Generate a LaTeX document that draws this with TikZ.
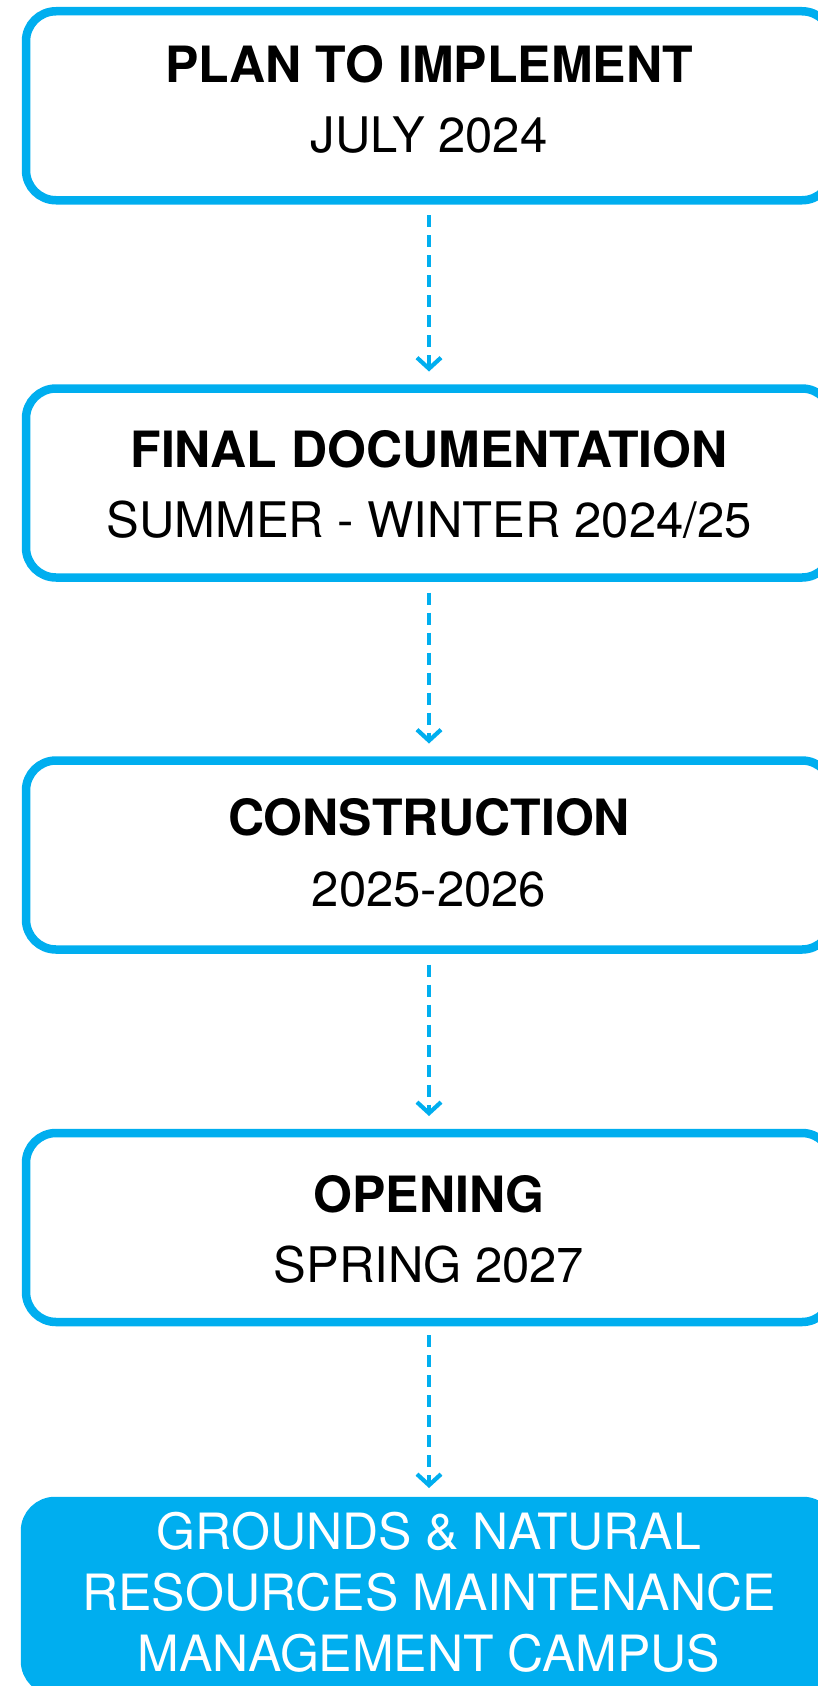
\documentclass[tikz,border=0pt]{standalone}
\usepackage{fontspec}
\setmainfont{TeX Gyre Heros}
\usetikzlibrary{arrows.meta}
\definecolor{brandcyan}{RGB}{0,174,239}
\begin{document}
\begin{tikzpicture}[x=1pt,y=-1pt,
  box/.style={draw=brandcyan, line width=8.5pt, rounded corners=30pt,
    minimum width=806pt, minimum height=189pt, inner sep=0pt, outer sep=0pt},
  endbox/.style={box, fill=brandcyan, minimum width=808pt, minimum height=190pt},
  titletext/.style={font=\fontsize{50}{60}\selectfont\bfseries, text=black, inner sep=0pt, anchor=base},
  subtext/.style={font=\fontsize{49}{60}\selectfont, text=black, inner sep=0pt, anchor=base},
  endtext/.style={font=\fontsize{50}{61}\selectfont, text=white, align=center, inner sep=0pt},
  flow/.style={draw=brandcyan, line width=4.2pt, dash pattern=on 12pt off 8pt,
    -{Straight Barb[length=11pt,width=24pt]}, shorten <=15pt, shorten >=17pt}]
\useasboundingbox (0,0) rectangle (817,1686);

\node[box] (b1) at (429,105.75) {};
\node[box] (b2) at (429,483) {};
\node[box] (b3) at (429,855) {};
\node[box] (b4) at (429,1227.5) {};
\node[endbox] (b5) at (429,1596) {};

\node[titletext] (t1) at (429,82) {PLAN TO IMPLEMENT};
\node[subtext] (s1) at (429,152) {JULY 2024};
\node[titletext] (t2) at (429,467) {FINAL DOCUMENTATION};
\node[subtext] (s2) at (429,537) {SUMMER - WINTER 2024/25};
\node[titletext] (t3) at (429,835.5) {CONSTRUCTION};
\node[subtext] (s3) at (429,906.5) {2025-2026};
\node[titletext] (t4) at (429,1212) {OPENING};
\node[subtext] (s4) at (429,1282) {SPRING 2027};
\node[endtext] (t5) at (429,1592) {GROUNDS \& NATURAL\\RESOURCES MAINTENANCE\\MANAGEMENT CAMPUS};

\draw[flow] (b1.south) -- (b2.north);
\draw[flow] (b2.south) -- (b3.north);
\draw[flow] (b3.south) -- (b4.north);
\draw[flow, shorten <=13pt, shorten >=13pt] (b4.south) -- (b5.north);
\end{tikzpicture}
\end{document}
